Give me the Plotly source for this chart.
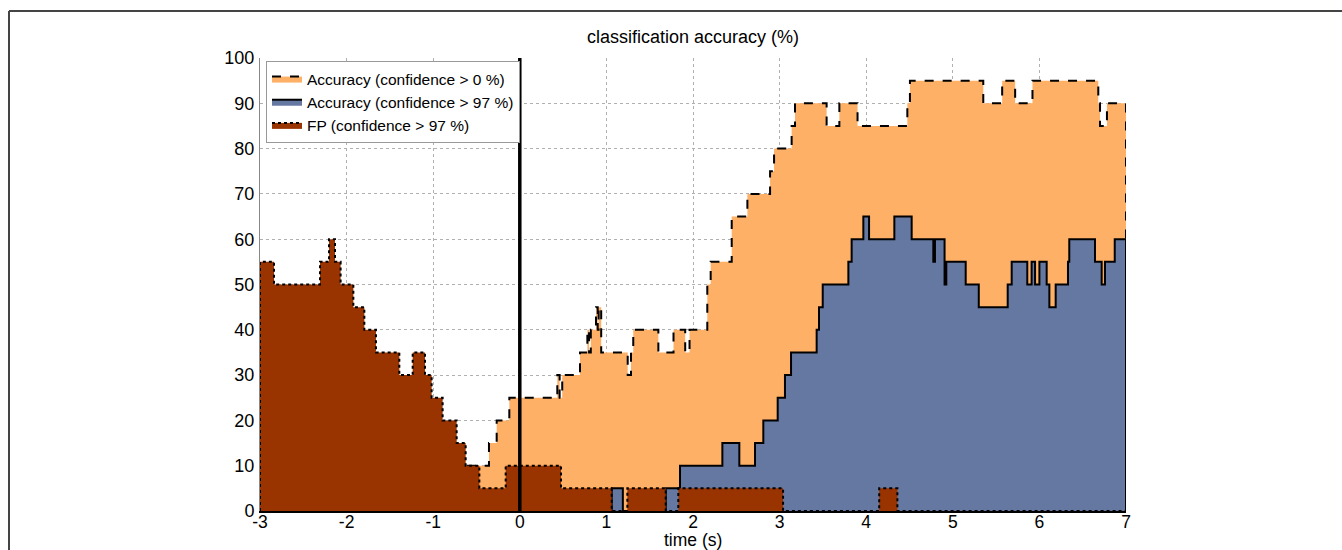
import plotly.graph_objects as go

# ---- data (step functions: value holds from each time until the next) ----
acc0_t = [-3.0, -0.62, -0.356, -0.267, -0.121, 0.433, 0.46, 0.49, 0.695, 0.78, 0.80, 0.82,
          0.88, 0.90, 0.91, 0.94, 1.246, 1.284, 1.31, 1.60, 1.775, 1.91, 1.96, 2.165, 2.204,
          2.447, 2.628, 2.89, 2.936, 3.139, 3.178, 3.543, 3.69, 3.90, 4.475, 4.505, 5.352,
          5.57, 5.72, 5.92, 6.68, 6.70, 6.78, 7.0]
acc0_v = [5, 10, 15, 20, 25, 30, 25, 30, 35, 40, 35, 40,
          45, 40, 45, 35, 30, 35, 40, 35, 40, 35, 40, 50, 55,
          65, 70, 75, 80, 85, 90, 85, 90, 85, 90, 95, 90,
          95, 90, 95, 90, 85, 90, 90]

acc97_t = [-3.0, 1.061, 1.19, 1.685, 1.85, 2.339, 2.535, 2.716, 2.812, 2.978, 3.062, 3.132,
           3.428, 3.455, 3.498, 3.794, 3.832, 3.967, 4.033, 4.325, 4.525, 4.775, 4.794,
           4.905, 4.925, 5.149, 5.30, 5.634, 5.68, 5.86, 5.91, 5.95, 6.00, 6.084, 6.115,
           6.188, 6.33, 6.345, 6.642, 6.719, 6.757, 6.87, 7.0]
acc97_v = [0, 5, 0, 5, 10, 15, 10, 15, 20, 25, 30, 35,
           40, 45, 50, 55, 60, 65, 60, 65, 60, 55, 60,
           50, 55, 50, 45, 50, 55, 50, 55, 50, 55, 50, 45,
           50, 55, 60, 55, 50, 55, 60, 60]

fp_t = [-3.0, -2.838, -2.307, -2.203, -2.134, -2.069, -1.922, -1.795, -1.661, -1.391, -1.237,
        -1.095, -1.018, -0.891, -0.729, -0.625, -0.467, -0.163, 0.476, 1.061, 1.242, 1.685,
        1.83, 3.04, 4.15, 4.36, 7.0]
fp_v = [55, 50, 55, 60, 55, 50, 45, 40, 35, 30, 35,
        30, 25, 20, 15, 10, 5, 10, 5, 0, 5, 0,
        5, 0, 5, 0, 0]

x_ticks = [-3, -2, -1, 0, 1, 2, 3, 4, 5, 6, 7]
y_ticks = [0, 10, 20, 30, 40, 50, 60, 70, 80, 90, 100]

names = ["Accuracy (confidence > 0 %)", "Accuracy (confidence > 97 %)", "FP (confidence > 97 %)"]
fills = ["#FEB066", "#6578A1", "#993300"]
dashes = ["dash", "solid", "dot"]


def closed(t, v):
    # close the patch down to zero at both ends
    return [t[0]] + list(t) + [t[-1]], [0] + list(v) + [0]


fig = go.Figure()
for (t, v), name, fc, d in zip([(acc0_t, acc0_v), (acc97_t, acc97_v), (fp_t, fp_v)],
                               names, fills, dashes):
    xs, ys = closed(t, v)
    fig.add_trace(go.Scatter(
        x=xs, y=ys, mode="lines", name=name, line_shape="hv",
        fill="tozeroy", fillcolor=fc,
        line=dict(color="black", width=2, dash=d),
    ))

# vertical line at time 0
fig.add_shape(type="line", xref="x", yref="y", x0=0, x1=0, y0=0, y1=100,
              line=dict(color="black", width=3.5), layer="above")

# outer figure frame (top and left)
L, R, T, B = 260, 216, 58, 39
W, H = 1342, 550
pw, ph = W - L - R, H - T - B
fx = (9 - L) / pw
fy = (H - B - 11) / ph
fig.add_shape(type="line", xref="paper", yref="paper", x0=fx, x1=(W + 5 - L) / pw, y0=fy, y1=fy,
              line=dict(color="#444444", width=2))
fig.add_shape(type="line", xref="paper", yref="paper", x0=fx, x1=fx, y0=fy, y1=-B / ph - 0.05,
              line=dict(color="#444444", width=2))

fig.add_annotation(text="time (s)", xref="paper", yref="paper", x=0.5, y=(H - B - 539.5) / ph,
                   showarrow=False, yanchor="middle", font=dict(size=17.5, color="black"),
                   borderpad=0)

font = "Liberation Sans, Arial, sans-serif"
fig.update_layout(
    width=W, height=H,
    margin=dict(l=L, r=R, t=T, b=B),
    paper_bgcolor="white", plot_bgcolor="white",
    font=dict(family=font, color="black"),
    title=dict(text="classification accuracy (%)", x=0.5, xref="paper", xanchor="center",
               y=1 - 37 / H, yref="container", yanchor="middle", font=dict(size=18)),
    showlegend=True,
    legend=dict(x=(266 - L) / pw, y=(H - B - 61) / ph, xanchor="left", yanchor="top",
                bgcolor="white", bordercolor="#999999", borderwidth=1,
                font=dict(size=15.5), itemwidth=30, tracegroupgap=0),
    xaxis=dict(range=[-3, 7], tickvals=x_ticks, ticktext=[str(v) for v in x_ticks],
               showgrid=True, gridcolor="#b0b0b0", griddash="dot", gridwidth=1,
               zeroline=False, showline=True, linecolor="black", linewidth=1.5,
               ticks="", tickfont=dict(size=17.5), ticklabelstandoff=-6),
    yaxis=dict(range=[0, 100], tickvals=y_ticks, ticktext=[str(v) for v in y_ticks],
               showgrid=True, gridcolor="#b0b0b0", griddash="dot", gridwidth=1,
               zeroline=False, showline=True, linecolor="#888888", linewidth=1,
               ticks="", tickfont=dict(size=18), ticklabelstandoff=1),
)

fig.write_html("out.html", config={"displayModeBar": False},
               post_script="document.body.style.margin='0';document.body.style.overflow='hidden';")
